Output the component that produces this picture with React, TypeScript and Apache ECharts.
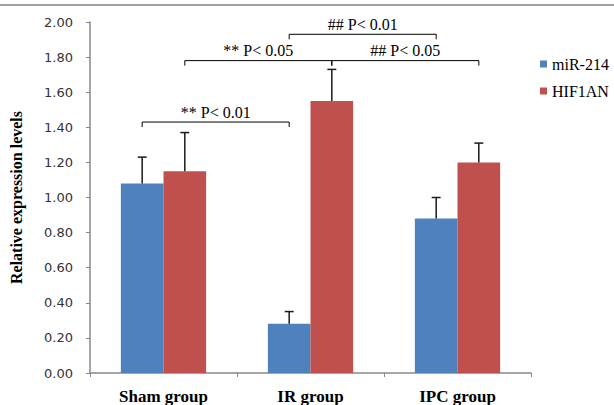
import React, { useEffect, useRef } from "react";
import * as echarts from "echarts";

const categories = ["Sham group", "IR group", "IPC group"];
const seriesNames = ["miR-214", "HIF1AN"];
const mirValues = [1.08, 0.28, 0.88];
const mirErrTop = [1.23, 0.35, 1.0];
const hifValues = [1.15, 1.55, 1.2];
const hifErrTop = [1.37, 1.73, 1.31];
const yTicks = { min: 0, max: 2, interval: 0.2 };
// brackets: [fromCategory, fromSeries, toCategory, toSeries, level]
const brackets = [
  [0, 0, 1, 0, 1.43],
  [0, 1, 1, 1, 1.78],
  [1, 1, 2, 1, 1.78],
  [1, 0, 2, 0, 1.93],
];
const bracketLabels = ["** P< 0.01", "** P< 0.05", "## P< 0.05", "## P< 0.01"];

const COLORS = ["#4F81BD", "#C0504D"];
const BAR_FRACTION = 0.29;
const SERIF = "'Liberation Serif', 'Times New Roman', serif";

export default function App() {
  const ref = useRef<HTMLDivElement>(null);
  useEffect(() => {
    document.body.style.margin = "0";
    const chart = echarts.init(ref.current!, null, { renderer: "svg" });
    const offsetFor = (api: any, s: number) => {
      const band = api.size([1, 0])[0];
      return (s === 0 ? -1 : 1) * band * BAR_FRACTION * 0.5;
    };
    const errData: number[][] = [];
    [mirValues, hifValues].forEach((vals, s) => {
      const tops = s === 0 ? mirErrTop : hifErrTop;
      vals.forEach((v, i) => errData.push([i, v, tops[i], s]));
    });
    chart.setOption({
      animation: false,
      grid: { left: 90, right: 83, top: 22, bottom: 31 },
      graphic: [
        {
          type: "line",
          shape: { x1: 0, y1: 5, x2: 614, y2: 5 },
          style: { stroke: "#a0a0a0", lineWidth: 2 },
        },
      ],
      legend: {
        data: seriesNames,
        orient: "vertical",
        left: 535,
        top: 51,
        itemWidth: 7,
        itemHeight: 7,
        itemGap: 11,
        icon: "rect",
        textStyle: { fontFamily: SERIF, fontSize: 16, color: "#000" },
      },
      xAxis: {
        type: "category",
        data: categories,
        axisLine: { lineStyle: { color: "#888", width: 1.5 } },
        axisTick: { show: true, length: 4, lineStyle: { color: "#888" } },
        axisLabel: {
          fontFamily: SERIF,
          fontWeight: "bold",
          fontSize: 17,
          color: "#000",
          margin: 15,
        },
      },
      yAxis: {
        type: "value",
        min: yTicks.min,
        max: yTicks.max,
        interval: yTicks.interval,
        name: "Relative expression levels",
        nameLocation: "middle",
        nameGap: 66,
        nameTextStyle: {
          fontFamily: SERIF,
          fontWeight: "bold",
          fontSize: 16,
          color: "#000",
        },
        splitLine: { show: false },
        axisLine: { show: true, lineStyle: { color: "#888", width: 1.5 } },
        axisTick: { show: true, length: 4, lineStyle: { color: "#888" } },
        axisLabel: {
          formatter: (v: number) => v.toFixed(2),
          fontFamily: "'DejaVu Sans', sans-serif",
          fontSize: 13,
          color: "#333",
          margin: 17,
        },
      },
      series: [
        {
          name: seriesNames[0],
          type: "bar",
          data: mirValues,
          barWidth: `${BAR_FRACTION * 100}%`,
          barGap: "0%",
          itemStyle: { color: COLORS[0] },
        },
        {
          name: seriesNames[1],
          type: "bar",
          data: hifValues,
          barWidth: `${BAR_FRACTION * 100}%`,
          barGap: "0%",
          itemStyle: { color: COLORS[1] },
        },
        {
          type: "custom",
          name: "errors",
          data: errData,
          z: 5,
          renderItem: (params: any, api: any) => {
            const cat = api.value(0);
            const s = api.value(3);
            const base = api.coord([cat, api.value(1)]);
            const top = api.coord([cat, api.value(2)]);
            const x = base[0] + offsetFor(api, s);
            const cap = 4.5;
            const style = { stroke: "#1a1a1a", lineWidth: 1.5 };
            return {
              type: "group",
              children: [
                { type: "line", shape: { x1: x, y1: base[1], x2: x, y2: top[1] }, style },
                { type: "line", shape: { x1: x - cap, y1: top[1], x2: x + cap, y2: top[1] }, style },
              ],
            };
          },
        },
        {
          type: "custom",
          name: "brackets",
          data: brackets,
          z: 6,
          renderItem: (params: any, api: any) => {
            const p1 = api.coord([api.value(0), api.value(4)]);
            const p2 = api.coord([api.value(2), api.value(4)]);
            const x1 = p1[0] + offsetFor(api, api.value(1));
            const x2 = p2[0] + offsetFor(api, api.value(3));
            const y = p1[1];
            const t = 5;
            const style = { stroke: "#000", lineWidth: 1 };
            return {
              type: "group",
              children: [
                { type: "line", shape: { x1, y1: y, x2, y2: y }, style },
                { type: "line", shape: { x1, y1: y, x2: x1, y2: y + t }, style },
                { type: "line", shape: { x1: x2, y1: y, x2, y2: y + t }, style },
                {
                  type: "text",
                  x: (x1 + x2) / 2,
                  y: y - 2,
                  style: {
                    text: bracketLabels[params.dataIndex],
                    align: "center",
                    verticalAlign: "bottom",
                    fontFamily: SERIF,
                    fontSize: 16,
                    fill: "#000",
                  },
                },
              ],
            };
          },
        },
      ],
    });
    return () => chart.dispose();
  }, []);
  return <div ref={ref} style={{ width: 614, height: 405 }} />;
}
